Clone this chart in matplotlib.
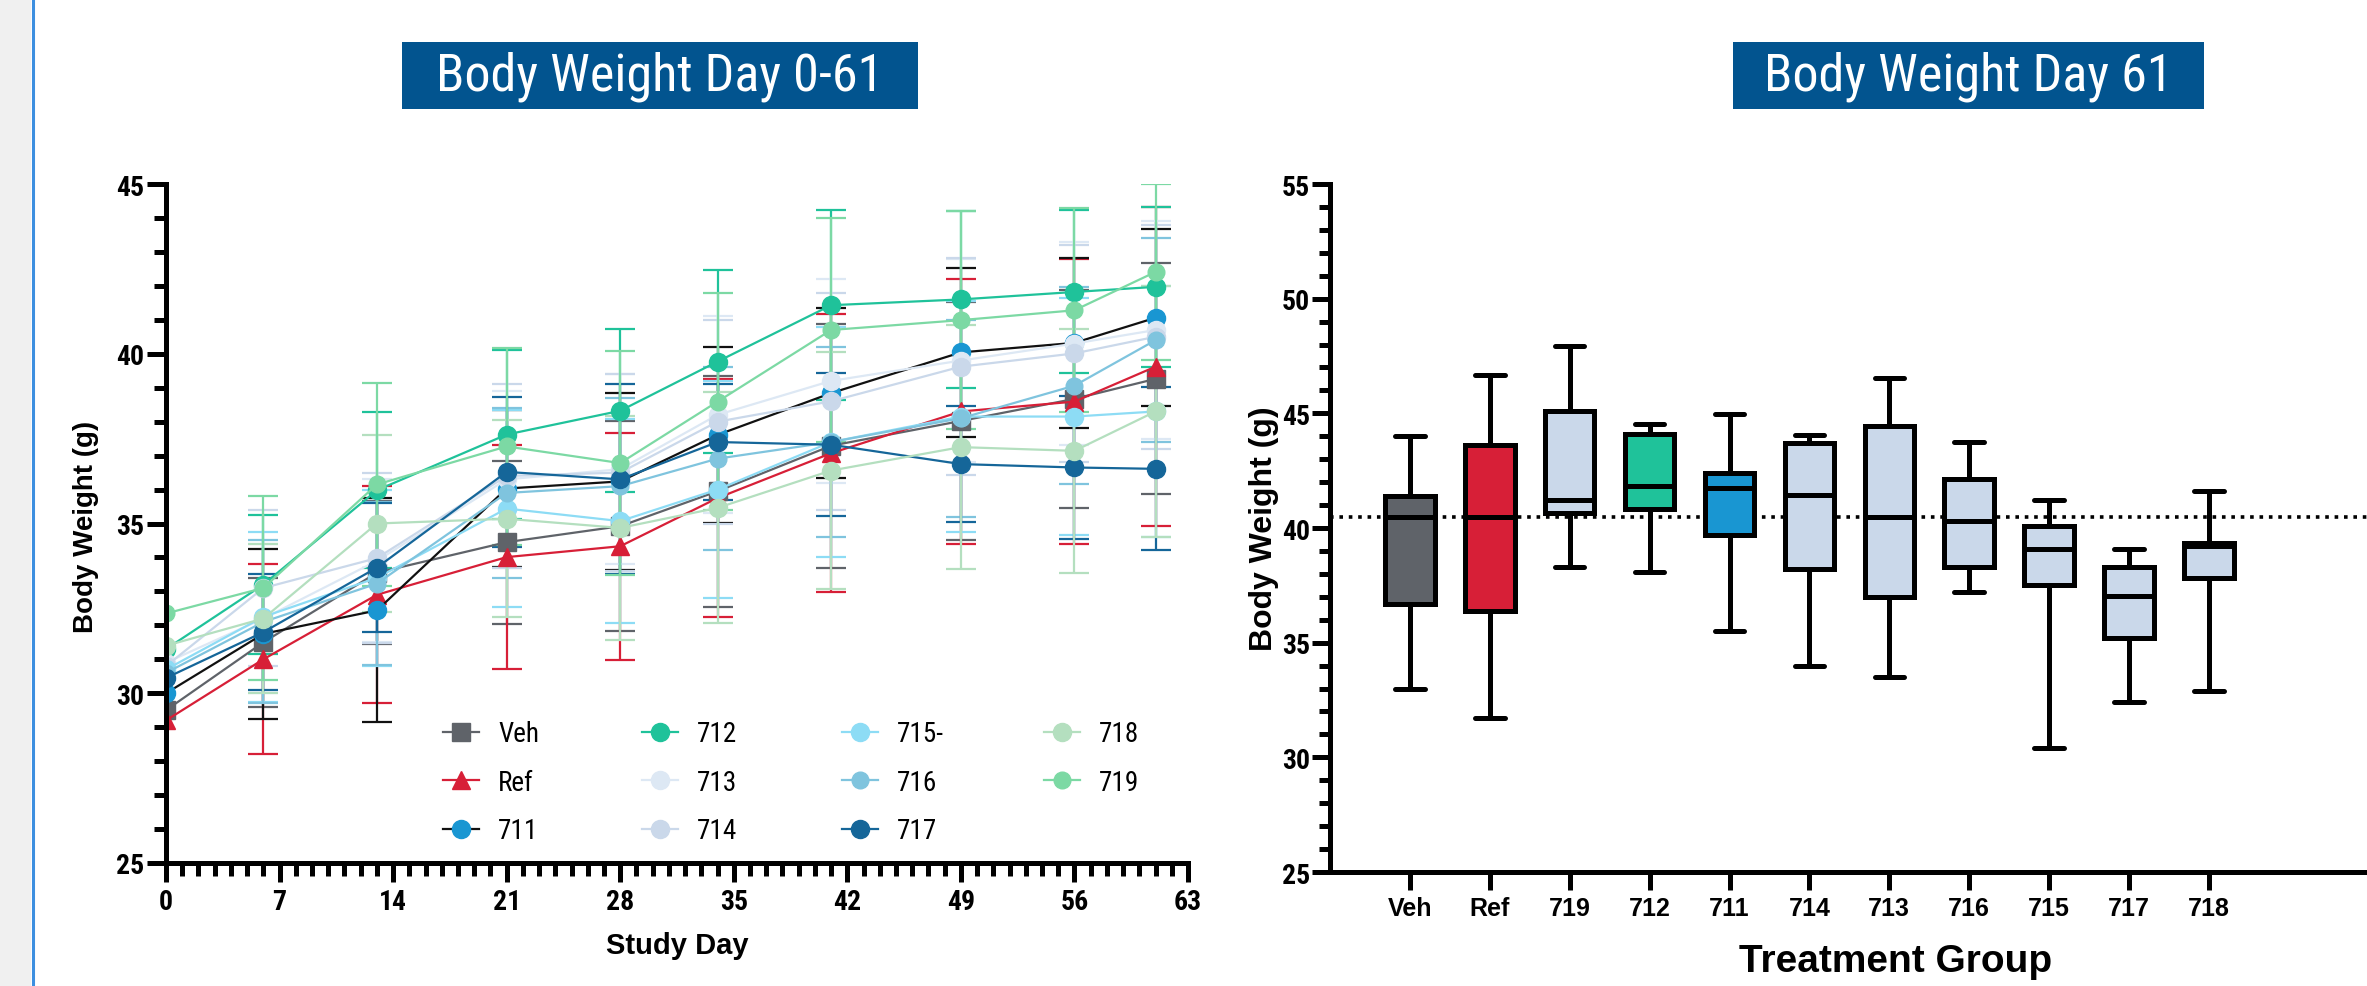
import matplotlib
matplotlib.use('Agg')
import matplotlib.pyplot as plt
from matplotlib import font_manager
from matplotlib.patches import Rectangle
from matplotlib.lines import Line2D
from matplotlib.ticker import MultipleLocator, FixedLocator
import numpy as np

names = {f.name for f in font_manager.fontManager.ttflist}
NARROW = 'Liberation Sans'
for cand in ['Liberation Sans Narrow', 'Arial Narrow', 'Roboto Condensed',
             'Open Sans Condensed', 'Nimbus Sans Narrow']:
    if cand in names:
        NARROW = cand
        break
SANS = 'Liberation Sans'

# ---------------- data ----------------
days = [0, 6, 13, 21, 28, 34, 41, 49, 56, 61]
series_names = ['Veh', 'Ref', '711', '712', '713', '714', '715-', '716', '717', '718', '719']

veh = [29.5, 31.5, 33.55, 34.45, 34.92, 35.95, 37.29, 38.02, 38.67, 39.26]
ref = [29.2, 31.0, 32.9, 34.01, 34.33, 35.75, 37.07, 38.30, 38.59, 39.62]
g711 = [30.0, 31.75, 32.44, 36.03, 36.24, 37.61, 38.84, 40.04, 40.32, 41.06]
g712 = [31.3, 33.2, 35.98, 37.62, 38.32, 39.77, 41.43, 41.6, 41.82, 41.97]
g713 = [30.9, 32.2, 33.9, 36.3, 36.6, 38.2, 39.2, 39.8, 40.3, 40.7]
g714 = [30.8, 33.1, 33.98, 36.4, 36.5, 38.0, 38.6, 39.62, 40.01, 40.5]
g715 = [30.7, 32.25, 33.4, 35.44, 35.07, 36.0, 37.4, 38.15, 38.15, 38.3]
g716 = [30.6, 32.1, 33.23, 35.9, 36.1, 36.91, 37.4, 38.1, 39.06, 40.4]
g717 = [30.45, 31.8, 33.7, 36.52, 36.3, 37.4, 37.32, 36.75, 36.65, 36.61]
g718 = [31.4, 32.2, 35.0, 35.14, 34.87, 35.46, 36.56, 37.25, 37.14, 38.3]
g719 = [32.35, 33.1, 36.15, 37.27, 36.78, 38.59, 40.70, 40.99, 41.28, 42.41]

nan = np.nan
veh_sd = [nan, 1.9, 2.1, 2.4, 3.1, 3.4, 3.6, 3.5, 3.2, 3.4]
ref_sd = [nan, 2.8, 3.2, 3.3, 3.35, 3.5, 4.1, 3.9, 4.2, 4.7]
g711_sd = [nan, 2.5, 3.3, 2.3, 2.6, 2.6, 2.5, 2.5, 2.5, 2.6]
g712_sd = [nan, 2.05, 2.3, 2.5, 2.4, 2.7, 2.8, 2.6, 2.4, 2.35]
g713_sd = [nan, 2.2, 2.4, 2.6, 2.8, 2.9, 3.0, 3.0, 3.0, 3.2]
g714_sd = [nan, 2.3, 2.5, 2.7, 2.9, 3.0, 3.2, 3.2, 3.2, 3.3]
g715_sd = [nan, 2.5, 2.6, 2.9, 3.0, 3.2, 3.4, 3.4, 3.5, 3.7]
g716_sd = [nan, 2.4, 2.4, 2.5, 2.6, 2.7, 2.8, 2.9, 2.9, 3.0]
g717_sd = [nan, 1.7, 1.9, 2.2, 2.8, 1.7, 2.1, 1.7, 2.1, 2.4]
g718_sd = [nan, 2.2, 2.6, 2.9, 3.3, 3.4, 3.5, 3.6, 3.6, 3.7]
g719_sd = [nan, 2.7, 3.0, 2.9, 3.3, 3.2, 3.3, 3.2, 3.0, 2.6]

# box plot (Day 61)
box_groups = ['Veh', 'Ref', '719', '712', '711', '714', '713', '716', '715', '717', '718']
box_min = [33.0, 31.7, 38.3, 38.1, 35.5, 34.0, 33.5, 37.2, 30.4, 32.4, 32.9]
box_q1 = [36.7, 36.4, 40.65, 40.85, 39.7, 38.2, 37.0, 38.3, 37.5, 35.2, 37.8]
box_med = [40.5, 40.5, 41.2, 41.85, 41.75, 41.45, 40.5, 40.3, 39.1, 37.05, 39.2]
box_q3 = [41.4, 43.6, 45.1, 44.1, 42.4, 43.7, 44.45, 42.15, 40.1, 38.3, 39.35]
box_max = [44.0, 46.65, 47.95, 44.55, 44.95, 44.05, 46.55, 43.75, 41.2, 39.1, 41.6]
vehicle_median_line = 40.5

# ---------------- styles ----------------
C_VEH = '#5f6369'
C_REF = '#d71f37'
C_711 = '#1996d2'
C_712 = '#1fc29a'
C_713 = '#dde8f4'
C_714 = '#cad8ea'
C_715 = '#8ddcf5'
C_716 = '#7fc4de'
C_717 = '#156699'
C_718 = '#b4dfbf'
C_719 = '#7cd9a4'
C_LIGHTBOX = '#cad8ea'

series = [
    (veh, veh_sd, C_VEH, C_VEH, 's', 13),
    (ref, ref_sd, C_REF, C_REF, '^', 13),
    (g711, g711_sd, '#111111', C_711, 'o', 13),
    (g712, g712_sd, C_712, C_712, 'o', 13),
    (g713, g713_sd, C_713, C_713, 'o', 13),
    (g714, g714_sd, C_714, C_714, 'o', 13),
    (g715, g715_sd, C_715, C_715, 'o', 13),
    (g716, g716_sd, C_716, C_716, 'o', 12),
    (g717, g717_sd, C_717, C_717, 'o', 13),
    (g718, g718_sd, C_718, C_718, 'o', 13),
    (g719, g719_sd, C_719, C_719, 'o', 12),
]
box_colors = [C_VEH, C_REF, C_LIGHTBOX, C_712, C_711, C_LIGHTBOX, C_LIGHTBOX,
              C_LIGHTBOX, C_LIGHTBOX, C_LIGHTBOX, C_LIGHTBOX]

W, H = 2367, 987
fig = plt.figure(figsize=(W / 100, H / 100), dpi=100)
fig.patch.set_facecolor('white')

# left grey strip and blue rule
fig.patches.append(Rectangle((0, 0), 31 / W, 1, transform=fig.transFigure,
                             facecolor='#f0f0f0', edgecolor='none', zorder=0))
fig.lines.append(Line2D([32.5 / W, 32.5 / W], [0, 1], transform=fig.transFigure,
                        color='#3d8fe0', lw=2.2))

# title boxes
def title_box(x0, x1, text):
    y0, y1 = 43, 110
    fig.patches.append(Rectangle((x0 / W, 1 - y1 / H), (x1 - x0) / W, (y1 - y0) / H,
                                 transform=fig.transFigure, facecolor='#02548f',
                                 edgecolor='none'))
    fig.text((x0 + x1) / 2 / W, 1 - (y0 + y1) / 2 / H, text, color='white',
             ha='center', va='center', fontsize=37.5, family=NARROW)

title_box(402, 918, 'Body Weight Day 0-61')
title_box(1733, 2204, 'Body Weight Day 61')

SPW = 3.6

# ---------------- left chart ----------------
ax1 = fig.add_axes([166 / W, 1 - 864 / H, (1188 - 166) / W, (864 - 185) / H])
for (vals, sd, lc, mc, mk, ms) in series:
    ax1.errorbar(days, vals, yerr=sd, color=lc, ecolor=lc, marker=mk, ms=ms,
                 mfc=mc, mec=mc, lw=1.6, elinewidth=1.6, capsize=11, capthick=1.6)
ax1.set_xlim(0, 63)
ax1.set_ylim(25, 45)
for s in ['top', 'right']:
    ax1.spines[s].set_visible(False)
for s in ['left', 'bottom']:
    ax1.spines[s].set_linewidth(SPW)
ax1.xaxis.set_major_locator(MultipleLocator(7))
ax1.xaxis.set_minor_locator(MultipleLocator(1))
ax1.yaxis.set_major_locator(MultipleLocator(5))
ax1.yaxis.set_minor_locator(MultipleLocator(1))
ax1.tick_params(which='major', length=14, width=SPW, direction='out', pad=4)
ax1.tick_params(axis='y', which='major', pad=1.5)
ax1.tick_params(which='minor', length=9, width=SPW, direction='out')
for lab in ax1.get_xticklabels() + ax1.get_yticklabels():
    lab.set_fontfamily(NARROW)
    lab.set_fontweight('bold')
    lab.set_fontsize(20)
ax1.set_xlabel('Study Day', fontsize=21, fontweight='bold', family=SANS)
ax1.set_ylabel('Body Weight (g)', fontsize=20, fontweight='bold', family=SANS)
ax1.xaxis.set_label_coords(0.5, -0.10)
ax1.yaxis.set_label_coords(-0.078, 0.496)
ax1.xaxis.label.set_va('top')
ax1.yaxis.label.set_va('center')

# legend: four columns placed individually
handles = []
for (vals, sd, lc, mc, mk, ms), nm in zip(series, series_names):
    handles.append(Line2D([], [], color=lc, lw=1.6, marker=mk, ms=ms, mfc=mc, mec=mc, label=nm))
cols = [(0, 3, 443), (3, 6, 642), (6, 9, 842), (9, 11, 1044)]
for a, b, xpx in cols:
    fig.legend(handles=handles[a:b], loc='upper left',
               bbox_to_anchor=(xpx / W, 1 - 721 / H), frameon=False,
               prop={'family': NARROW, 'size': 19.5}, handlelength=1.33,
               handletextpad=0.7, borderpad=0, borderaxespad=0,
               labelspacing=0.8)

# ---------------- right chart ----------------
spacing_px = 79.9
xmax = 13.5
ax2 = fig.add_axes([1330 / W, 1 - 873 / H, xmax * spacing_px / W, (873 - 185) / H])
ax2.axhline(vehicle_median_line, color='black', lw=2.6, ls=(0, (1, 1.6)), zorder=1)
stats = []
for i, g in enumerate(box_groups):
    stats.append(dict(label=g, whislo=box_min[i], q1=box_q1[i], med=box_med[i],
                      q3=box_q3[i], whishi=box_max[i], fliers=[]))
positions = list(range(1, len(box_groups) + 1))
bp = ax2.bxp(stats, positions=positions, widths=0.62, capwidths=0.37,
             patch_artist=True, showfliers=False,
             boxprops=dict(linewidth=SPW, edgecolor='black'),
             whiskerprops=dict(linewidth=SPW, color='black', solid_capstyle='butt'),
             capprops=dict(linewidth=SPW, color='black', solid_capstyle='round'),
             medianprops=dict(linewidth=SPW, color='black', solid_capstyle='butt'))
for patch, c in zip(bp['boxes'], box_colors):
    patch.set_facecolor(c)
    patch.set_zorder(2)
ax2.set_xlim(0, xmax)
ax2.set_ylim(25, 55)
for s in ['top', 'right']:
    ax2.spines[s].set_visible(False)
for s in ['left', 'bottom']:
    ax2.spines[s].set_linewidth(SPW)
ax2.yaxis.set_major_locator(MultipleLocator(5))
ax2.yaxis.set_minor_locator(MultipleLocator(1))
ax2.xaxis.set_major_locator(FixedLocator(positions))
ax2.set_xticklabels(box_groups)
ax2.tick_params(which='major', length=13, width=SPW, direction='out', pad=4)
ax2.tick_params(axis='y', which='major', pad=1.5)
ax2.tick_params(which='minor', length=8, width=SPW, direction='out')
for lab in ax2.get_yticklabels():
    lab.set_fontfamily(NARROW)
    lab.set_fontweight('bold')
    lab.set_fontsize(20)
for lab in ax2.get_xticklabels():
    lab.set_fontfamily(SANS)
    lab.set_fontweight('bold')
    lab.set_fontsize(18)
ax2.set_xlabel('Treatment Group', fontsize=28, fontweight='bold', family=SANS)
ax2.set_ylabel('Body Weight (g)', fontsize=23, fontweight='bold', family=SANS)
ax2.xaxis.set_label_coords((1896 - 1330) / (xmax * spacing_px), -0.103)
ax2.yaxis.set_label_coords(-0.061, 0.5)
ax2.xaxis.label.set_va('top')
ax2.yaxis.label.set_va('center')

fig.savefig('out.png', dpi=100)
